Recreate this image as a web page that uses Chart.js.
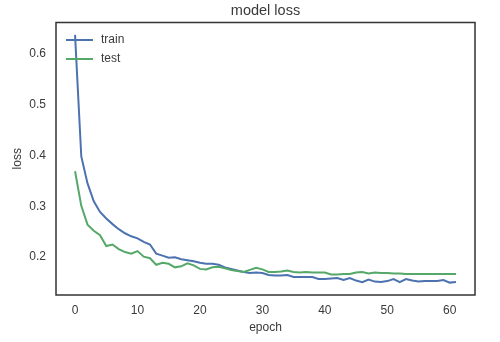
<!DOCTYPE html>
<html>
<head>
<meta charset="utf-8">
<script src="https://cdn.jsdelivr.net/npm/chart.js@4.4.0/dist/chart.umd.min.js"></script>
<style>
  body { margin: 0; background: #fff; }
  canvas { display: block; }
</style>
</head>
<body>
<canvas id="lossChart" width="500" height="342"></canvas>
<script>
// epochs and loss values
const epochs = [0, 1, 2, 3, 4, 5, 6, 7, 8, 9, 10, 11, 12, 13, 14, 15, 16, 17, 18, 19,
  20, 21, 22, 23, 24, 25, 26, 27, 28, 29, 30, 31, 32, 33, 34, 35, 36, 37, 38, 39,
  40, 41, 42, 43, 44, 45, 46, 47, 48, 49, 50, 51, 52, 53, 54, 55, 56, 57, 58, 59, 60, 61];

const trainLoss = [0.637, 0.398, 0.345, 0.310, 0.289, 0.276, 0.265, 0.255, 0.247, 0.241,
  0.237, 0.230, 0.225, 0.207, 0.203, 0.199, 0.200, 0.196, 0.194, 0.192,
  0.189, 0.187, 0.187, 0.185, 0.180, 0.177, 0.174, 0.171, 0.169, 0.170,
  0.169, 0.165, 0.164, 0.164, 0.165, 0.161, 0.161, 0.161, 0.161, 0.157,
  0.157, 0.158, 0.159, 0.155, 0.159, 0.154, 0.151, 0.156, 0.152, 0.151,
  0.153, 0.157, 0.151, 0.157, 0.154, 0.152, 0.153, 0.153, 0.153, 0.155,
  0.150, 0.151];

const testLoss = [0.369, 0.301, 0.264, 0.252, 0.243, 0.222, 0.225, 0.216, 0.210, 0.207,
  0.212, 0.201, 0.198, 0.185, 0.189, 0.187, 0.180, 0.182, 0.188, 0.184,
  0.177, 0.176, 0.180, 0.181, 0.178, 0.175, 0.173, 0.171, 0.175, 0.179,
  0.176, 0.171, 0.171, 0.172, 0.174, 0.171, 0.170, 0.171, 0.170, 0.170,
  0.170, 0.166, 0.166, 0.167, 0.167, 0.170, 0.171, 0.168, 0.170, 0.169,
  0.169, 0.168, 0.168, 0.167, 0.167, 0.167, 0.167, 0.167, 0.167, 0.167,
  0.167, 0.167];

const xTicks = [0, 10, 20, 30, 40, 50, 60];
const yTicks = [0.2, 0.3, 0.4, 0.5, 0.6];

const textColor = '#3a3a3a';
const fontFamily = '"Liberation Sans", Arial, sans-serif';

// matplotlib-style 5% margins around the data
const allY = trainLoss.concat(testLoss);
const yLo = Math.min(...allY), yHi = Math.max(...allY);
const xLo = epochs[0], xHi = epochs[epochs.length - 1];
const yPad = (yHi - yLo) * 0.05, xPad = (xHi - xLo) * 0.05;

function points(ys) {
  return epochs.map((e, i) => ({ x: e, y: ys[i] }));
}

// box around the plot area
const frame = {
  id: 'frame',
  afterDatasetsDraw(chart) {
    const { ctx, chartArea: a } = chart;
    ctx.save();
    ctx.strokeStyle = '#333';
    ctx.lineWidth = 1.5;
    ctx.strokeRect(a.left, a.top, a.right - a.left, a.bottom - a.top);
    ctx.restore();
  }
};

// legend in the upper left, inside the axes
const innerLegend = {
  id: 'innerLegend',
  afterDraw(chart) {
    const { ctx, chartArea: a } = chart;
    ctx.save();
    ctx.font = '12px ' + fontFamily;
    ctx.textBaseline = 'middle';
    chart.data.datasets.forEach((ds, i) => {
      const y = a.top + 17.5 + i * 19;
      ctx.strokeStyle = ds.borderColor;
      ctx.lineWidth = 2;
      ctx.beginPath();
      ctx.moveTo(a.left + 10, y);
      ctx.lineTo(a.left + 37, y);
      ctx.stroke();
      ctx.fillStyle = textColor;
      ctx.fillText(ds.label, a.left + 45, y);
    });
    ctx.restore();
  }
};

const ctx = document.getElementById('lossChart').getContext('2d');
const lossChart = new Chart(ctx, {
  type: 'line',
  data: {
    datasets: [{
      label: 'train',
      data: points(trainLoss),
      borderColor: '#4c72b0',
      borderWidth: 2,
      pointRadius: 0,
      tension: 0,
      order: 1
    }, {
      label: 'test',
      data: points(testLoss),
      borderColor: '#55a868',
      borderWidth: 2,
      pointRadius: 0,
      tension: 0,
      order: 0
    }]
  },
  options: {
    responsive: false,
    devicePixelRatio: 1,
    animation: false,
    layout: { padding: { left: 0, right: 25, top: 0, bottom: 0 } },
    plugins: {
      legend: { display: false },
      tooltip: { enabled: false },
      title: {
        display: true,
        text: 'model loss',
        fullSize: false,
        color: textColor,
        font: { family: fontFamily, size: 14.5, weight: 'normal' },
        padding: { top: 2.5, bottom: 2.6 }
      }
    },
    scales: {
      x: {
        type: 'linear',
        min: xLo - xPad,
        max: xHi + xPad,
        afterFit(scale) { scale.height = 47; },
        afterBuildTicks(scale) { scale.ticks = xTicks.map(v => ({ value: v })); },
        grid: { display: false, drawTicks: false },
        border: { display: false },
        ticks: {
          color: textColor,
          padding: 8,
          maxRotation: 0,
          font: { family: fontFamily, size: 12 },
          callback: v => String(v)
        },
        title: {
          display: true,
          text: 'epoch',
          color: textColor,
          font: { family: fontFamily, size: 12 },
          padding: { top: 0, bottom: 7 }
        }
      },
      y: {
        type: 'linear',
        min: yLo - yPad,
        max: yHi + yPad,
        afterFit(scale) { scale.width = 56; },
        afterBuildTicks(scale) { scale.ticks = yTicks.map(v => ({ value: v })); },
        grid: { display: false, drawTicks: false },
        border: { display: false },
        ticks: {
          color: textColor,
          padding: 10,
          font: { family: fontFamily, size: 12 },
          callback: v => v.toFixed(1)
        },
        title: {
          display: true,
          text: 'loss',
          color: textColor,
          font: { family: fontFamily, size: 12 },
          padding: { top: 10, bottom: 0 }
        }
      }
    }
  },
  plugins: [frame, innerLegend]
});
</script>
</body>
</html>
